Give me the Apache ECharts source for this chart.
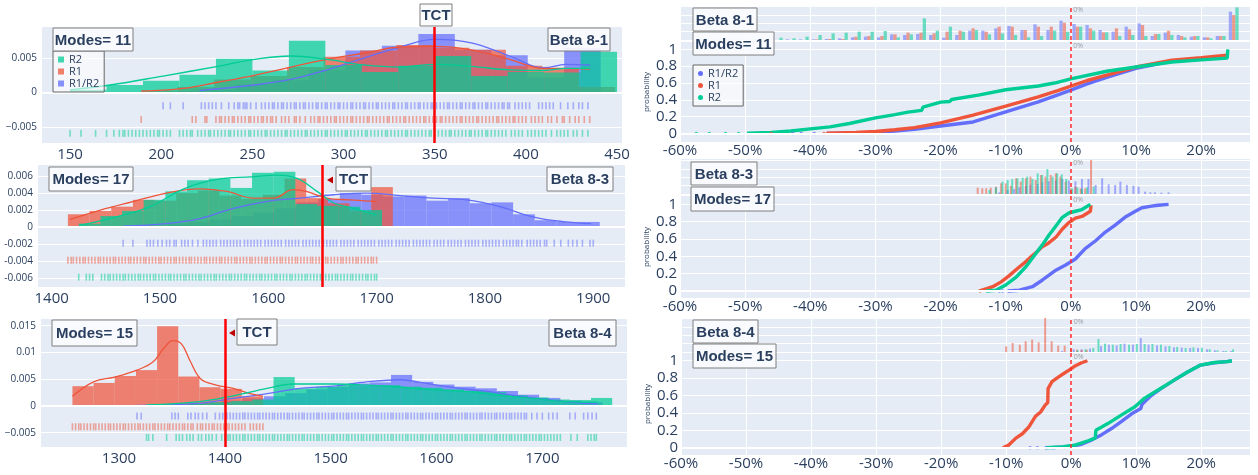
<!DOCTYPE html>
<html>
<head>
<meta charset="utf-8">
<script src="https://cdn.jsdelivr.net/npm/echarts@6/dist/echarts.min.js"></script>
<style>
  html, body { margin: 0; background: #fff; }
  #chart { width: 1258px; height: 475px; }
</style>
</head>
<body>
<div id="chart"></div>
<script>
// ---------- data ----------
const seriesNames = ['R1/R2', 'R1', 'R2'];
const panelNames = ['Beta 8-1', 'Beta 8-3', 'Beta 8-4'];
const modeCounts = [11, 17, 15];
const tctValues = [350, 1650, 1400];

// left: histogram bins (start, width 20) and densities
const binWidth = 20;
const p1BlueStart = 201, p1BlueH = [0.0002,0.0005,0.0012,0.0018,0.0033,0.0061,0.0068,0.0085,0.0062,0.0054,0.0022,0.0065];
const p1RedStart = 189, p1RedH = [0.0003,0.0008,0.0019,0.0024,0.0037,0.0052,0.0061,0.0069,0.0065,0.0062,0.0039,0.0035,0.0008];
const p1GreenStart = 150, p1GreenH = [0.0004,0.0011,0.0017,0.0026,0.0049,0.0032,0.0075,0.0040,0.0030,0.0039,0.0053,0.0024,0.0030,0.0029,0.0059];

const p2BlueStart = 1466, p2BlueH = [0.0001,0.0002,0.0004,0.0006,0.0009,0.0013,0.0017,0.0022,0.0029,0.0033,0.0040,0.0038,0.0036,0.0037,0.0031,0.0034,0.0028,0.0029,0.0015,0.0008,0.0006,0.0006];
const p2RedStart = 1415, p2RedH = [0.0015,0.0019,0.0024,0.0032,0.0031,0.0040,0.0043,0.0037,0.0033,0.0038,0.0057,0.0034,0.0028,0.0019,0.0047];
const p2GreenStart = 1425, p2GreenH = [0.0004,0.0013,0.0019,0.0032,0.0042,0.0055,0.0057,0.0046,0.0064,0.0065,0.0027,0.0025,0.0024,0.0020];

const p3BlueStart = 1317, p3BlueH = [0.0001,0.0002,0.0004,0.0006,0.0010,0.0014,0.0018,0.0024,0.0031,0.0036,0.0042,0.0044,0.0058,0.0045,0.0040,0.0036,0.0033,0.0028,0.0021,0.0015,0.0010,0.0007];
const p3RedStart = 1256, p3RedH = [0.0037,0.0043,0.0056,0.0067,0.0149,0.0055,0.0035,0.0032,0.0018];
const p3GreenStart = 1326, p3GreenH = [0.0002,0.0003,0.0005,0.0007,0.0009,0.0012,0.0054,0.0033,0.0036,0.0039,0.0038,0.0039,0.0036,0.0034,0.0031,0.0028,0.0026,0.0020,0.0016,0.0012,0.0011,0.0015];

// left: density curves
const p1BlueKde = [[221,0.0003],[251,0.0011],[271,0.0019],[291,0.0033],[311,0.0050],[331,0.0066],[350,0.0077],[370,0.0072],[391,0.0053],[410,0.0036],[422,0.0041],[435,0.0040]];
const p1RedKde = [[189,0.0002],[212,0.0006],[231,0.0015],[251,0.0025],[271,0.0037],[291,0.0048],[311,0.0057],[331,0.0066],[350,0.0067],[370,0.0062],[391,0.0048],[410,0.0035],[422,0.0035],[435,0.0034]];
const p1GreenKde = [[150,0.0004],[172,0.0011],[201,0.0024],[231,0.0038],[251,0.0048],[271,0.0053],[291,0.0048],[311,0.0040],[331,0.0037],[350,0.0041],[370,0.0038],[391,0.0033],[410,0.0032],[422,0.0035],[435,0.0035]];

const p2BlueKde = [[1466,0.0001],[1506,0.0004],[1537,0.0010],[1568,0.0022],[1598,0.0030],[1629,0.0034],[1660,0.0038],[1691,0.0040],[1722,0.0037],[1752,0.0034],[1783,0.0032],[1814,0.0024],[1844,0.0012],[1875,0.0006],[1898,0.0004]];
const p2RedKde = [[1417,0.0009],[1445,0.0020],[1475,0.0030],[1506,0.0040],[1537,0.0045],[1562,0.0042],[1586,0.0034],[1605,0.0034],[1623,0.0044],[1635,0.0042],[1654,0.0034],[1675,0.0032],[1700,0.0030]];
const p2GreenKde = [[1426,0.0002],[1460,0.0012],[1491,0.0024],[1522,0.0045],[1553,0.0056],[1584,0.0059],[1608,0.0061],[1627,0.0057],[1645,0.0042],[1661,0.0028],[1679,0.0022],[1700,0.0014]];

const p3BlueKde = [[1317,0.0001],[1376,0.0005],[1408,0.0014],[1440,0.0023],[1471,0.0033],[1502,0.0037],[1534,0.0045],[1566,0.0049],[1585,0.0044],[1613,0.0035],[1644,0.0028],[1676,0.0019],[1708,0.0011],[1739,0.0005],[1752,0.0004]];
const p3RedKde = [[1256,0.0018],[1276,0.0045],[1296,0.0054],[1317,0.0067],[1332,0.0082],[1342,0.0107],[1351,0.0122],[1359,0.0116],[1367,0.0085],[1377,0.0051],[1392,0.0039],[1408,0.0033],[1424,0.0023],[1436,0.0018]];
const p3GreenKde = [[1326,0.0002],[1376,0.0008],[1408,0.0019],[1440,0.0033],[1465,0.0041],[1502,0.0041],[1534,0.0039],[1566,0.0035],[1597,0.0030],[1629,0.0027],[1660,0.0020],[1692,0.0014],[1723,0.0008],[1752,0.0007]];

// left: rug rows (sample values) and their row heights
const rugLevels = [-0.0019, -0.0039, -0.0059];
const p1BlueRug = [201,205,212,222,224,226,228,230,233,237,240,242,243,245,246,247,249,252,255,257,259,261,262,264,266,267,269,271,273,274,276,278,279,281,283,285,286,288,290,291,293,295,297,298,300,302,304,305,307,309,311,312,314,316,318,319,321,323,325,327,328,330,332,334,335,337,339,341,342,344,346,348,349,351,353,355,357,358,360,362,364,365,367,369,371,372,374,376,378,379,381,383,385,387,388,390,391,394,396,398,400,402,407,409,411,413,415,419,423,426,429,431,434];
const p1RedRug = [189,217,219,224,225,230,232,233,235,237,239,240,242,244,246,248,249,251,253,255,256,258,260,261,263,266,268,270,273,274,276,279,282,284,286,287,289,291,293,295,296,298,300,302,304,305,307,309,311,313,314,316,318,320,322,324,325,327,329,331,333,334,336,338,340,342,344,345,347,349,351,353,354,356,358,360,362,364,365,367,369,371,373,374,376,378,380,382,384,385,387,389,391,393,394,396,398,400,403,405,407,409,412,414,417,420,421,424,427,429,432,435];
const p1GreenRug = [150,156,164,170,174,177,179,180,182,184,186,188,190,192,194,196,198,199,201,203,205,210,212,214,216,217,220,222,224,226,227,229,231,233,235,237,238,240,242,244,246,248,249,251,253,255,257,258,260,262,264,266,268,269,271,273,275,277,279,280,282,284,286,288,290,291,293,295,297,299,301,302,304,306,308,310,312,313,315,317,319,321,323,324,326,328,330,332,334,335,337,339,341,343,345,347,348,350,352,354,356,358,359,361,363,365,367,369,370,372,374,376,378,379,381,383,385,387,389,392,394,396,398,401,403,405,407,409,411,414,417,419,421,423,426,428,431,434];

const p2BlueRug = [1466,1475,1488,1491,1494,1498,1502,1506,1509,1513,1515,1520,1523,1526,1530,1535,1540,1543,1546,1549,1552,1556,1559,1562,1565,1568,1571,1574,1578,1581,1584,1587,1590,1593,1597,1600,1603,1606,1609,1612,1616,1619,1622,1625,1628,1632,1635,1638,1641,1644,1647,1651,1654,1657,1660,1663,1667,1670,1673,1676,1679,1683,1686,1689,1692,1695,1698,1702,1705,1708,1711,1714,1718,1721,1724,1727,1730,1734,1737,1740,1743,1746,1749,1753,1756,1759,1762,1766,1769,1772,1775,1778,1782,1785,1788,1791,1794,1798,1801,1804,1807,1810,1813,1817,1820,1823,1826,1829,1831,1834,1839,1842,1845,1848,1851,1855,1857,1864,1870,1877,1881,1885,1890,1897,1900];
const p2RedRug = [1415,1418,1420,1423,1426,1429,1431,1434,1437,1440,1443,1445,1448,1451,1454,1457,1459,1462,1465,1468,1471,1473,1476,1479,1482,1485,1487,1490,1493,1496,1499,1501,1504,1507,1510,1513,1515,1518,1521,1524,1527,1529,1532,1535,1538,1541,1543,1546,1549,1552,1555,1557,1560,1563,1566,1569,1571,1574,1577,1580,1583,1585,1588,1591,1594,1597,1599,1602,1605,1608,1611,1613,1616,1619,1622,1625,1627,1630,1633,1636,1639,1641,1644,1647,1650,1653,1655,1658,1661,1664,1667,1669,1672,1675,1678,1681,1683,1686,1689,1692,1695,1697,1700];
const p2GreenRug = [1425,1432,1435,1438,1446,1449,1452,1454,1457,1460,1463,1466,1468,1471,1474,1477,1480,1482,1485,1488,1491,1494,1496,1499,1502,1505,1508,1510,1513,1516,1519,1522,1524,1527,1530,1533,1536,1538,1541,1544,1547,1550,1552,1555,1558,1561,1564,1566,1569,1572,1575,1578,1580,1583,1586,1589,1592,1594,1597,1600,1603,1606,1608,1611,1614,1617,1620,1622,1625,1628,1631,1634,1636,1639,1642,1645,1648,1650,1653,1656,1659,1662,1664,1667,1670,1673,1676,1678,1681,1684,1687,1690,1692,1695,1698,1700];

const p3BlueRug = [1317,1321,1350,1353,1356,1365,1368,1372,1375,1379,1383,1391,1395,1398,1402,1405,1408,1411,1414,1417,1419,1422,1425,1428,1431,1433,1436,1439,1442,1445,1447,1450,1453,1456,1459,1461,1464,1467,1470,1473,1475,1478,1481,1484,1487,1489,1492,1495,1498,1501,1503,1506,1509,1512,1515,1517,1520,1523,1526,1529,1531,1534,1537,1540,1543,1545,1548,1551,1554,1557,1559,1562,1565,1568,1571,1573,1576,1579,1582,1585,1587,1590,1593,1596,1599,1601,1604,1607,1610,1613,1615,1618,1621,1624,1627,1629,1632,1635,1638,1641,1643,1646,1649,1652,1655,1657,1660,1663,1666,1669,1671,1674,1677,1680,1683,1685,1690,1695,1700,1706,1710,1714,1726,1731,1739,1743,1747,1751];
const p3RedRug = [1256,1259,1262,1264,1267,1270,1273,1276,1278,1281,1284,1287,1290,1292,1295,1298,1301,1304,1306,1309,1312,1315,1318,1320,1323,1326,1329,1332,1334,1337,1340,1343,1346,1348,1351,1354,1357,1360,1362,1365,1368,1370,1374,1377,1379,1382,1385,1388,1390,1393,1396,1399,1402,1404,1407,1410,1413,1416,1419,1424,1427,1430,1433,1436];
const p3GreenRug = [1326,1328,1332,1345,1354,1357,1360,1364,1367,1370,1375,1378,1382,1385,1388,1392,1397,1400,1403,1405,1408,1411,1414,1417,1419,1422,1425,1428,1431,1433,1436,1439,1442,1445,1447,1450,1453,1456,1459,1461,1464,1467,1470,1473,1475,1478,1481,1484,1487,1489,1492,1495,1498,1501,1503,1506,1509,1512,1515,1517,1520,1523,1526,1529,1531,1534,1537,1540,1543,1545,1548,1551,1554,1557,1559,1562,1565,1568,1571,1573,1576,1579,1582,1585,1587,1590,1593,1596,1599,1601,1604,1607,1610,1613,1615,1618,1621,1624,1627,1629,1632,1635,1638,1641,1643,1646,1649,1652,1655,1657,1660,1663,1666,1669,1671,1674,1677,1680,1683,1685,1688,1691,1694,1697,1699,1702,1705,1708,1711,1714,1717,1727,1733,1743,1746,1749,1751];

// left: tick values
const p1XTicks = [150,200,250,300,350,400,450];
const p1YTicks = [-0.005,0,0.005];
const p2XTicks = [1400,1500,1600,1700,1800,1900];
const p2YTicks = [-0.006,-0.004,-0.002,0,0.002,0.004,0.006];
const p3XTicks = [1300,1400,1500,1600,1700];
const p3YTicks = [-0.005,0,0.005,0.01,0.015];

// right: ticks
const pctTicks = [-60,-50,-40,-30,-20,-10,0,10,20];
const probTicks = [0,0.2,0.4,0.6,0.8,1];
const stripTicks = [0,25,50,75,100];

// right, Beta 8-1: strip histogram, bins of 2% (centres), counts
const s1Centers = [-59,-57,-55,-53,-51,-49,-47,-45,-43,-41,-39,-37,-35,-33,-31,-29,-27,-25,-23,-21,-19,-17,-15,-13,-11,-9,-7,-5,-3,-1,1,3,5,7,9,11,13,15,17,19,21,23,25];
const s1Blue  = [0,0,0,0,0,0,0,0,2,2,2,3,5,8,10,8,17,15,18,15,7,15,28,28,35,42,30,47,30,58,48,45,30,25,40,50,12,22,15,10,8,12,85];
const s1Red   = [0,0,0,0,0,0,2,0,0,0,2,3,3,10,12,12,17,22,22,20,25,28,35,25,40,40,30,40,40,52,40,35,23,35,32,45,18,28,12,12,8,12,75];
const s1Green = [0,2,2,2,2,3,3,7,5,10,15,20,22,25,25,27,8,17,65,28,40,25,30,17,20,15,8,12,28,25,40,28,23,12,15,12,18,15,8,12,5,12,98];

// right, Beta 8-3 / 8-4: strip bars (position %, count)
const s2RedX = [-14.3,-13.6,-13.0,-12.3,-11.5,-10.7,-10.0,-9.2,-8.4,-7.7,-6.9,-6.2,-5.4,-4.6,-3.9,-3.1,-2.3,-1.6,-0.8,0,0.7,1.5,2.2,3.1];
const s2RedH = [19,17,17,19,22,32,32,25,47,37,47,52,42,57,52,57,62,52,37,17,22,17,17,102];
const s2GreenX = [-12.5,-11.5,-10.5,-9.7,-9.0,-8.2,-7.4,-6.7,-5.9,-5.1,-4.4,-3.6,-2.8,-2.1,-1.4,-0.7,0.2,1.0,1.7,2.5,3.5];
const s2GreenH = [12,20,37,42,45,47,49,52,45,62,57,75,52,62,59,45,17,20,15,20,22];
const s2BlueX = [-11,-9.7,-8.7,-7.9,-6.9,-6.2,-5.1,-4.4,-3.4,-2.3,-1.3,-0.3,0.7,1.7,2.7,3.8,4.8,5.8,6.8,7.6,8.6,9.6,10.4,11.4,12.2,12.9,13.9,15];
const s2BlueH = [5,12,15,20,25,28,30,35,38,40,45,40,38,45,45,27,47,29,27,37,27,25,22,7,5,5,4,5];

const s3RedX = [-10,-9,-7.9,-7,-6,-5,-4,-3,-2,-1,0,0.9,1.6,2.4];
const s3RedH = [17,27,22,32,37,29,102,32,19,19,10,7,6,7];
const s3BlueX = [-1.4,0.4,1.6,2.9,4.6,5.8,7,8.2,9.5,10.7,11.9,13.2,14.5,15.8,17,18.3,19.5,20.9,22.1,23.4,24.6];
const s3BlueH = [3,8,8,10,18,22,20,25,22,42,22,20,17,14,13,12,12,8,5,3,3];
const s3GreenX = [1,2.2,3.4,4.2,5.2,6.4,7.6,8.9,10.1,11.3,12.5,13.8,15.1,16.3,17.6,18.8,20.1,21.3,22.5,23.8,24.9];
const s3GreenH = [5,8,12,39,25,22,24,22,24,24,24,22,18,15,12,14,13,8,5,3,8];

// right: ECDF (% change, probability); tail points drawn as separate dots
const e1Blue = [[-37.5,0.002],[-33,0.008],[-30,0.015],[-27,0.03],[-24,0.05],[-20,0.09],[-15,0.138],[-10,0.257],[-5,0.376],[-2,0.46],[0,0.515],[2.5,0.59],[5.5,0.667],[10,0.774],[15.5,0.86],[20,0.89],[24,0.92]];
const e1Red = [[-37.5,0.003],[-33,0.012],[-30,0.025],[-27,0.045],[-24,0.07],[-20,0.127],[-15,0.218],[-10,0.325],[-5,0.436],[-2,0.51],[0,0.563],[2.5,0.63],[5.5,0.694],[10,0.79],[15.5,0.87],[20,0.9],[24,0.93]];
const e1Green = [[-49.7,0.004],[-46,0.012],[-43,0.03],[-40,0.056],[-37,0.08],[-34,0.12],[-30,0.187],[-27,0.225],[-25,0.254],[-22.9,0.275],[-22.7,0.315],[-20,0.373],[-18.6,0.38],[-18.3,0.405],[-14,0.46],[-10,0.52],[-5,0.565],[-2.5,0.6],[0,0.65],[5.5,0.74],[10,0.79],[15.5,0.85],[20,0.875],[24,0.895],[24.1,1.0]];
const e1BlueDots = [[-42.7,0],[-41.4,0],[-39.4,0]];
const e1RedDots = [[-46,0],[-37.9,0]];
const e1GreenDots = [[-57.5,0],[-55.5,0],[-53,0],[-51,0]];

const e2Blue = [[-9.7,0],[-7.9,0.01],[-5.9,0.05],[-4.4,0.125],[-2.3,0.24],[-0.8,0.3],[0.7,0.37],[2.2,0.49],[3.8,0.58],[5.3,0.68],[6.8,0.76],[8.3,0.85],[9.9,0.92],[10.9,0.96],[12.4,0.98],[13.4,0.99],[15,1.0]];
const e2Red = [[-14.1,0],[-12,0.05],[-10.7,0.106],[-9.5,0.175],[-8.2,0.26],[-6.9,0.34],[-6.2,0.39],[-5.4,0.44],[-4.4,0.51],[-3.4,0.555],[-2.3,0.62],[-1.3,0.715],[-0.3,0.79],[0.7,0.84],[1.7,0.86],[3.0,0.92],[3.1,0.99]];
const e2Green = [[-13,0],[-11.5,0.01],[-10,0.07],[-8.4,0.16],[-6.9,0.28],[-5.4,0.43],[-4.4,0.53],[-3.4,0.64],[-2.3,0.75],[-1.3,0.85],[-0.3,0.9],[0.7,0.92],[1.7,0.94],[3.0,1.0]];
const e2BlueDots = [[-11,0],[-10.5,0]];

const e3Blue = [[-3,0],[-1.4,0.01],[0.1,0.02],[1.6,0.04],[3.2,0.09],[4.7,0.15],[6.2,0.22],[7.7,0.3],[9.3,0.39],[10.7,0.45],[10.9,0.5],[12.3,0.6],[13.8,0.68],[15.9,0.78],[17.9,0.87],[19.9,0.95],[22,0.977],[24,0.99],[24.7,1.0]];
const e3Red = [[-10.5,0],[-9.6,0.03],[-8.5,0.11],[-7.5,0.16],[-6.5,0.24],[-5.5,0.36],[-4.7,0.41],[-4,0.49],[-3.6,0.52],[-3.55,0.68],[-2.95,0.76],[-2.2,0.8],[-1.2,0.85],[-0.15,0.9],[0.6,0.94],[1.6,0.977],[2.5,1.0]];
const e3Green = [[-3.9,0],[-1.4,0.01],[0.6,0.03],[2.6,0.08],[3.7,0.11],[3.8,0.2],[5.7,0.28],[7.7,0.375],[9.8,0.47],[11.3,0.57],[13.3,0.66],[15.9,0.78],[17.9,0.87],[19.9,0.95],[22,0.98],[24,0.99],[24.7,1.0]];
const e3BlueDots = [[-6.3,0],[-5.2,0],[-3.9,0]];

// ---------- chart ----------
const BLUE = '#636efa', RED = '#ef553b', GREEN = '#00cc96';
const INK = '#2a3f5f', BG = '#e5ecf6', FONT = 'Open Sans';

const grids = [
  {left: 42, top: 27, width: 580, height: 116},
  {left: 38, top: 165, width: 587, height: 122},
  {left: 41, top: 319, width: 586, height: 128},
  {left: 680, top: 6, width: 570, height: 34},
  {left: 680, top: 42, width: 570, height: 100},
  {left: 680, top: 159, width: 570, height: 35},
  {left: 680, top: 196, width: 570, height: 102},
  {left: 681, top: 318, width: 569, height: 34},
  {left: 681, top: 353, width: 569, height: 102}
].map(g => Object.assign({show: true, backgroundColor: BG, borderWidth: 0}, g));

const unicodeMinus = v => v === 0 ? '0' : (v < 0 ? '\u2212' + (-v) : String(v));
const plain = v => String(v);

function valueAxis(gi, min, max, ticks, label) {
  return {
    type: 'value', gridIndex: gi, min, max,
    axisLine: {show: false},
    axisTick: {show: false, customValues: ticks},
    splitLine: {show: true, lineStyle: {color: '#fff', width: 1}},
    axisLabel: Object.assign({customValues: ticks, color: INK, fontFamily: FONT}, label)
  };
}

const xAxes = [
  Object.assign(valueAxis(0, 134.6, 452.7, p1XTicks, {fontSize: 15, margin: 4, formatter: plain}), {splitLine: {show: false}}),
  Object.assign(valueAxis(1, 1387.4, 1929.3, p2XTicks, {fontSize: 15, margin: 4, formatter: plain}), {splitLine: {show: false}}),
  Object.assign(valueAxis(2, 1226.3, 1780, p3XTicks, {fontSize: 15, margin: 4, formatter: plain}), {splitLine: {show: false}}),
  valueAxis(3, -60, 27.5, pctTicks, {show: false}),
  valueAxis(4, -60, 27.5, pctTicks, {fontSize: 15, margin: 1, formatter: v => v + '%'}),
  valueAxis(5, -60, 27.5, pctTicks, {show: false}),
  valueAxis(6, -60, 27.5, pctTicks, {fontSize: 15, margin: 1, formatter: v => v + '%'}),
  valueAxis(7, -60, 27.5, pctTicks, {show: false}),
  valueAxis(8, -60, 27.5, pctTicks, {fontSize: 15, margin: 1, formatter: v => v + '%'})
];

const probName = {name: 'probability', nameLocation: 'middle', nameGap: 29,
  nameTextStyle: {fontSize: 8, color: INK, fontFamily: FONT}};
const yAxes = [
  valueAxis(0, -0.0073, 0.0095, p1YTicks, {fontSize: 10, margin: 5, formatter: unicodeMinus}),
  valueAxis(1, -0.00706, 0.0073, p2YTicks, {fontSize: 10, margin: 5, formatter: plain}),
  valueAxis(2, -0.00767, 0.01625, p3YTicks, {fontSize: 10, margin: 5, formatter: unicodeMinus}),
  valueAxis(3, 0, 102, stripTicks, {show: false}),
  Object.assign(valueAxis(4, -0.1, 1.087, probTicks, {fontSize: 15, margin: 3}), probName),
  valueAxis(5, 0, 105, stripTicks, {show: false}),
  Object.assign(valueAxis(6, -0.08, 1.096, probTicks, {fontSize: 15, margin: 3}), probName),
  valueAxis(7, 0, 102, stripTicks, {show: false}),
  Object.assign(valueAxis(8, -0.084, 1.089, probTicks, {fontSize: 15, margin: 3}), probName)
];

function hist(name, color, start, heights, gi) {
  return {
    type: 'custom', name, xAxisIndex: gi, yAxisIndex: gi, z: 2, silent: true, clip: true,
    itemStyle: {color},
    data: heights.map((h, i) => [start + i * binWidth, start + (i + 1) * binWidth, h]),
    encode: {x: [0, 1], y: 2},
    renderItem(params, api) {
      const a = api.coord([api.value(0), api.value(2)]);
      const b = api.coord([api.value(1), 0]);
      return {type: 'rect', shape: {x: a[0], y: a[1], width: b[0] - a[0], height: b[1] - a[1]},
        style: {fill: color, opacity: 0.72}};
    }
  };
}
function kde(name, color, pts, gi) {
  return {type: 'line', name, xAxisIndex: gi, yAxisIndex: gi, data: pts, smooth: 0.4,
    symbol: 'none', silent: true, z: 4, lineStyle: {color, width: 1.3}, itemStyle: {color}};
}
function rug(name, color, vals, level, gi) {
  return {type: 'scatter', name, xAxisIndex: gi, yAxisIndex: gi, data: vals.map(v => [v, level]),
    symbol: 'rect', symbolSize: [1.6, 7], silent: true, z: 3, itemStyle: {color, opacity: 0.5}};
}
function refLine(gi, axisKey, value, style, z) {
  return {type: 'line', xAxisIndex: gi, yAxisIndex: gi, data: [], z, silent: true,
    markLine: {silent: true, symbol: ['none', 'none'], label: {show: false},
      lineStyle: style, data: [{[axisKey]: value}]}};
}
function ecdf(name, color, pts, gi) {
  return {type: 'line', name, xAxisIndex: gi, yAxisIndex: gi, data: pts, symbol: 'none',
    silent: true, z: 4, lineStyle: {color, width: 3.4}, itemStyle: {color}};
}
function dots(name, color, pts, gi) {
  return {type: 'scatter', name, xAxisIndex: gi, yAxisIndex: gi, data: pts, symbolSize: 3.5,
    silent: true, z: 4, itemStyle: {color}};
}
function stripBars(name, color, xs, hs, gi, width, gap) {
  return {type: 'bar', name, xAxisIndex: gi, yAxisIndex: gi, data: xs.map((x, i) => [x, hs[i]]),
    barWidth: width, barGap: gap, silent: true, itemStyle: {color, opacity: 0.55}};
}
function zeroLabel(gi, top) {
  return {type: 'scatter', xAxisIndex: gi, yAxisIndex: gi, data: [[0, top]], symbolSize: 1,
    silent: true, z: 6, itemStyle: {color: 'rgba(0,0,0,0)'},
    label: {show: true, formatter: '0%', position: [3, 1], fontSize: 7, color: '#8a8a8a', fontFamily: FONT}};
}

const series = [];
const leftSets = [
  [p1BlueStart, p1BlueH, p1RedStart, p1RedH, p1GreenStart, p1GreenH, p1BlueKde, p1RedKde, p1GreenKde, p1BlueRug, p1RedRug, p1GreenRug],
  [p2BlueStart, p2BlueH, p2RedStart, p2RedH, p2GreenStart, p2GreenH, p2BlueKde, p2RedKde, p2GreenKde, p2BlueRug, p2RedRug, p2GreenRug],
  [p3BlueStart, p3BlueH, p3RedStart, p3RedH, p3GreenStart, p3GreenH, p3BlueKde, p3RedKde, p3GreenKde, p3BlueRug, p3RedRug, p3GreenRug]
];
leftSets.forEach((s, gi) => {
  series.push(refLine(gi, 'yAxis', 0, {color: '#fff', width: 2, type: 'solid'}, 1));
  series.push(hist(seriesNames[0], BLUE, s[0], s[1], gi));
  series.push(hist(seriesNames[1], RED, s[2], s[3], gi));
  series.push(hist(seriesNames[2], GREEN, s[4], s[5], gi));
  series.push(kde(seriesNames[0], BLUE, s[6], gi));
  series.push(kde(seriesNames[1], RED, s[7], gi));
  series.push(kde(seriesNames[2], GREEN, s[8], gi));
  series.push(rug(seriesNames[0], BLUE, s[9], rugLevels[0], gi));
  series.push(rug(seriesNames[1], RED, s[10], rugLevels[1], gi));
  series.push(rug(seriesNames[2], GREEN, s[11], rugLevels[2], gi));
  series.push(refLine(gi, 'xAxis', tctValues[gi], {color: '#ff0000', width: 2.5, type: 'solid'}, 8));
});

// right column
series.push(stripBars(seriesNames[0], BLUE, s1Centers, s1Blue, 3, 3.3, 0));
series.push(stripBars(seriesNames[1], RED, s1Centers, s1Red, 3, 3.3, 0));
series.push(stripBars(seriesNames[2], GREEN, s1Centers, s1Green, 3, 3.3, 0));
series.push(stripBars(seriesNames[0], BLUE, s2BlueX, s2BlueH, 5, 2, '-100%'));
series.push(stripBars(seriesNames[1], RED, s2RedX, s2RedH, 5, 2, '-100%'));
series.push(stripBars(seriesNames[2], GREEN, s2GreenX, s2GreenH, 5, 2, '-100%'));
series.push(stripBars(seriesNames[0], BLUE, s3BlueX, s3BlueH, 7, 2, '-100%'));
series.push(stripBars(seriesNames[1], RED, s3RedX, s3RedH, 7, 2, '-100%'));
series.push(stripBars(seriesNames[2], GREEN, s3GreenX, s3GreenH, 7, 2, '-100%'));

const ecdfSets = [
  [4, e1Blue, e1Red, e1Green, e1BlueDots, e1RedDots, e1GreenDots],
  [6, e2Blue, e2Red, e2Green, e2BlueDots, [], []],
  [8, e3Blue, e3Red, e3Green, e3BlueDots, [], []]
];
ecdfSets.forEach(e => {
  const gi = e[0];
  series.push(refLine(gi, 'yAxis', 0, {color: '#fff', width: 2, type: 'solid'}, 1));
  series.push(ecdf(seriesNames[0], BLUE, e[1], gi));
  series.push(ecdf(seriesNames[1], RED, e[2], gi));
  series.push(ecdf(seriesNames[2], GREEN, e[3], gi));
  series.push(dots(seriesNames[0], BLUE, e[4], gi));
  series.push(dots(seriesNames[1], RED, e[5], gi));
  series.push(dots(seriesNames[2], GREEN, e[6], gi));
});
[3, 4, 5, 6, 7, 8].forEach(gi => {
  series.push(refLine(gi, 'xAxis', 0, {color: '#ff2a2a', width: 1.5, type: [4, 3]}, 7));
  series.push(zeroLabel(gi, yAxes[gi].max));
});

// annotation boxes (paper positions)
function box(x, y, w, h, text) {
  return {type: 'group', z: 100, children: [
    {type: 'rect', z: 100, shape: {x, y, width: w, height: h},
      style: {fill: 'rgba(250,251,253,0.92)', stroke: '#7f7f7f', lineWidth: 1}},
    {type: 'text', z: 101, style: {x: x + w / 2, y: y + h / 2 + 1, text, align: 'center', verticalAlign: 'middle',
      textAlign: 'center', textVerticalAlign: 'middle',
      font: 'bold 15px "Liberation Sans", Arial, sans-serif', fill: INK}}
  ]};
}
function arrow(tipX, y) {
  return {type: 'polygon', z: 100, shape: {points: [[tipX, y], [tipX + 6, y - 3.5], [tipX + 6, y + 3.5]]},
    style: {fill: '#c00000'}};
}
const modes = modeCounts.map(m => 'Modes= ' + m);
const graphics = [
  box(53, 28, 80, 23, modes[0]), box(548, 28, 62, 23, panelNames[0]), box(420, 4, 32, 22, 'TCT'),
  box(49, 167, 84, 24, modes[1]), box(336, 167, 35, 24, 'TCT'), box(547, 167, 66, 24, panelNames[1]),
  box(52, 320, 85, 26, modes[2]), box(237, 319, 40, 26, 'TCT'), box(549, 320, 67, 26, panelNames[2]),
  box(693, 8, 64, 23, panelNames[0]), box(693, 32, 81, 23, modes[0]),
  box(691, 162, 66, 23, panelNames[1]), box(691, 187, 83, 24, modes[1]),
  box(693, 320, 65, 23, panelNames[2]), box(693, 344, 83, 24, modes[2]),
  arrow(327, 180), arrow(229, 333)
];

const legendBase = {
  orient: 'vertical', padding: [3, 5, 3, 5], itemGap: 1, selectedMode: false, z: 50,
  borderColor: '#666', borderWidth: 1, backgroundColor: 'rgba(255,255,255,0.6)',
  textStyle: {fontSize: 11, color: INK, fontFamily: FONT, lineHeight: 11}
};

const option = {
  animation: false,
  backgroundColor: '#fff',
  grid: grids,
  xAxis: xAxes,
  yAxis: yAxes,
  legend: [
    Object.assign({}, legendBase, {left: 53, top: 51, itemWidth: 6, itemHeight: 6,
      data: [
        {name: seriesNames[2], icon: 'rect', itemStyle: {color: GREEN, opacity: 0.75}},
        {name: seriesNames[1], icon: 'rect', itemStyle: {color: RED, opacity: 0.75}},
        {name: seriesNames[0], icon: 'rect', itemStyle: {color: BLUE, opacity: 0.75}}
      ]}),
    Object.assign({}, legendBase, {left: 693, top: 65, itemWidth: 5, itemHeight: 5,
      data: [
        {name: seriesNames[0], icon: 'circle', itemStyle: {color: BLUE}},
        {name: seriesNames[1], icon: 'circle', itemStyle: {color: RED}},
        {name: seriesNames[2], icon: 'circle', itemStyle: {color: GREEN}}
      ]})
  ],
  graphic: {elements: graphics},
  series
};

const chart = echarts.init(document.getElementById('chart'));
chart.setOption(option);
</script>
</body>
</html>
